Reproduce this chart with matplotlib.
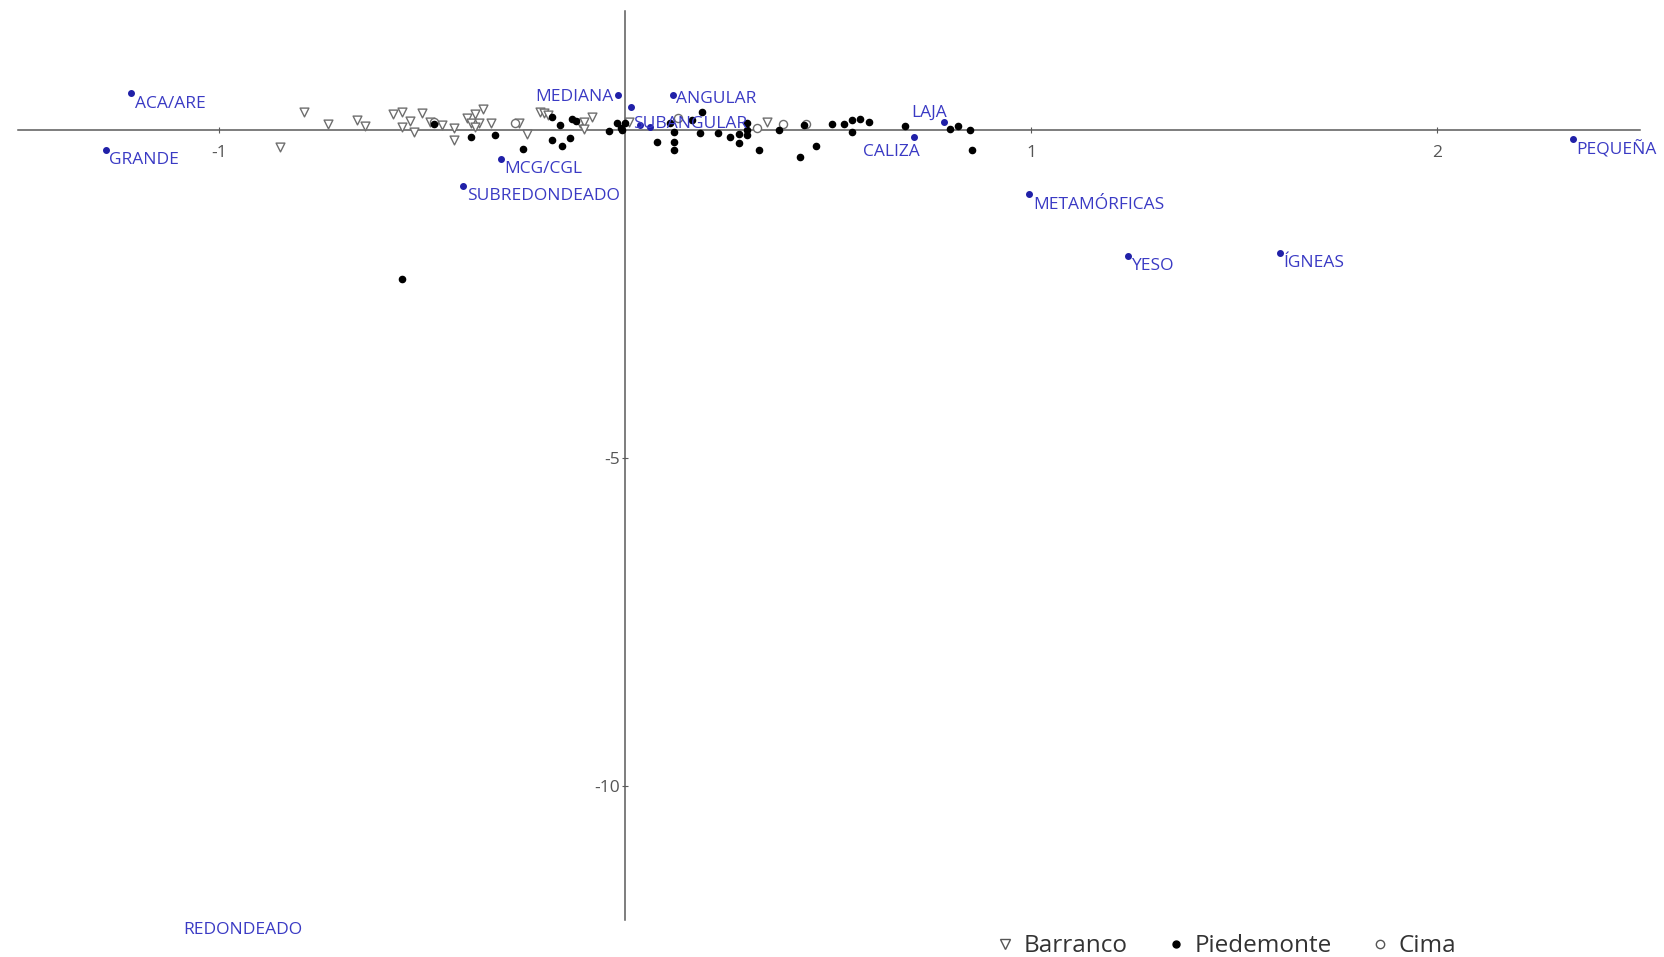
import matplotlib
matplotlib.use("Agg")
import matplotlib.pyplot as plt
from matplotlib.lines import Line2D

plt.rcParams["font.family"] = ["Open Sans", "DejaVu Sans"]
plt.rcParams["axes.unicode_minus"] = False

# --- Datos (coordenadas del análisis de correspondencias) -----------------
barranco_x = [-0.79, -0.73, -0.85, -0.66, -0.64, -0.57, -0.55, -0.53, -0.50, -0.55,
              -0.52, -0.48, -0.45, -0.42, -0.42, -0.39, -0.37, -0.35, -0.38, -0.36,
              -0.33, -0.37, -0.26, -0.24, -0.21, -0.20, -0.19, -0.11, -0.10, -0.08,
              -0.10, 0.01, 0.35]
barranco_y = [0.27, 0.09, -0.26, 0.15, 0.06, 0.24, 0.27, 0.14, 0.26, 0.05,
              -0.03, 0.12, 0.08, 0.03, -0.15, 0.18, 0.24, 0.32, 0.11, 0.11,
              0.11, 0.05, 0.11, -0.06, 0.27, 0.26, 0.23, 0.11, 0.12, 0.20,
              0.02, 0.12, 0.12]

piedemonte_x = [-0.55, -0.47, -0.38, -0.32, -0.25, -0.18, -0.16, -0.18, -0.155, -0.135,
                -0.13, -0.12, -0.04, -0.02, -0.01, -0.007, 0.0, 0.08, 0.11, 0.12,
                0.12, 0.12, 0.19, 0.165, 0.185, 0.23, 0.26, 0.28, 0.28, 0.30,
                0.30, 0.30, 0.33, 0.38, 0.43, 0.44, 0.47, 0.51, 0.54, 0.56,
                0.58, 0.60, 0.56, 0.69, 0.80, 0.82, 0.85, 0.855]
piedemonte_y = [-2.27, 0.09, -0.11, -0.08, -0.29, 0.20, 0.08, -0.15, -0.24, -0.12,
                0.17, 0.14, -0.02, 0.11, 0.03, 0.0, 0.11, -0.18, 0.11, -0.03,
                -0.18, -0.30, 0.27, 0.15, -0.05, -0.05, -0.11, -0.06, -0.20, 0.11,
                0.0, -0.08, -0.30, 0.0, -0.41, 0.08, -0.24, 0.09, 0.09, 0.15,
                0.17, 0.12, -0.03, 0.06, 0.02, 0.06, 0.0, -0.30]

cima_x = [-0.47, -0.27, 0.13, 0.325, 0.39, 0.445]
cima_y = [0.12, 0.11, 0.18, 0.03, 0.09, 0.09]

categorias = ["ACA/ARE", "GRANDE", "MEDIANA", "ANGULAR", "SUBANGULAR", "MCG/CGL",
              "SUBREDONDEADO", "LAJA", "CALIZA", "METAMÓRFICAS", "YESO", "ÍGNEAS",
              "PEQUEÑA"]
cat_x = [-1.216, -1.278, -0.018, 0.118, 0.016, -0.306, -0.398, 0.786, 0.712, 0.996,
         1.239, 1.613, 2.335]
cat_y = [0.56, -0.30, 0.53, 0.53, 0.35, -0.44, -0.85, 0.12, -0.11, -0.98,
         -1.92, -1.87, -0.14]

# categorías sin etiqueta visible (solapadas)
extra_x = [0.037, 0.062]
extra_y = [0.08, 0.05]

redondeado_x = -1.087
redondeado_y = -12.14

# --- Figura -----------------------------------------------------------------
fig = plt.figure(figsize=(16.64, 9.57), dpi=100)
ax = fig.add_axes([0, 0, 1, 1])
ax.set_xlim(-1.539, 2.559)
ax.set_ylim(-12.607, 1.982)

axis_col = "#5a5a5a"
for side in ["top", "right"]:
    ax.spines[side].set_visible(False)
ax.spines["left"].set_position(("data", 0))
ax.spines["bottom"].set_position(("data", 0))
ax.spines["left"].set_bounds(-12.04, 1.81)
ax.spines["bottom"].set_bounds(-1.495, 2.5)
for side in ["left", "bottom"]:
    ax.spines[side].set_color(axis_col)
    ax.spines[side].set_linewidth(1.1)

ax.set_xticks([-1, 1, 2])
ax.set_yticks([-5, -10])
ax.tick_params(axis="both", colors=axis_col, labelcolor="#555555",
               labelsize=12.5, direction="inout", length=5, width=0.8)
ax.tick_params(axis="x", pad=8.5)
ax.tick_params(axis="y", pad=1)

ax.scatter(barranco_x, barranco_y, marker="v", s=40, facecolors="white",
           edgecolors="#6e6e6e", linewidths=1.0, zorder=3)
ax.scatter(piedemonte_x, piedemonte_y, marker="o", s=20, color="black", zorder=4)
ax.scatter(cima_x, cima_y, marker="o", s=34, facecolors="white",
           edgecolors="#6e6e6e", linewidths=1.0, zorder=3)

blue_txt = "#3a3ac4"
blue_dot = "#2020a8"
ax.scatter(cat_x, cat_y, marker="o", s=16, color=blue_dot, zorder=5)
ax.scatter(extra_x, extra_y, marker="o", s=16, color=blue_dot, zorder=5)

# desplazamiento de etiquetas (puntos) y alineación
placement = {
    "MEDIANA": ((-3, -1), "right"),
    "ANGULAR": ((2, -2.5), "left"),
    "SUBANGULAR": ((1, -12), "left"),
    "LAJA": ((2, 6.5), "right"),
    "CALIZA": ((4, -10.5), "right"),
}
for name, x, y in zip(categorias, cat_x, cat_y):
    (dx, dy), ha = placement.get(name, ((2.5, -7.5), "left"))
    ax.annotate(name, (x, y), xytext=(dx, dy), textcoords="offset points",
                ha=ha, va="center", fontsize=12.5, color=blue_txt, zorder=6)

ax.text(redondeado_x, redondeado_y - 0.05, "REDONDEADO", ha="left", va="center",
        fontsize=12.5, color=blue_txt)

# --- Leyenda ----------------------------------------------------------------
handles = [
    Line2D([], [], linestyle="none", marker="v", markersize=7,
           markerfacecolor="white", markeredgecolor="#555555", label="Barranco"),
    Line2D([], [], linestyle="none", marker="o", markersize=5,
           color="black", label="Piedemonte"),
    Line2D([], [], linestyle="none", marker="o", markersize=6,
           markerfacecolor="white", markeredgecolor="#555555", label="Cima"),
]
leg = fig.legend(handles=handles, loc="center", bbox_to_anchor=(0.736, 0.011),
                 ncol=3, frameon=False, fontsize=17.5, handletextpad=0.25,
                 columnspacing=1.5, handlelength=1.0)
for t in leg.get_texts():
    t.set_color("#333333")

fig.savefig("out.png", dpi=100)
